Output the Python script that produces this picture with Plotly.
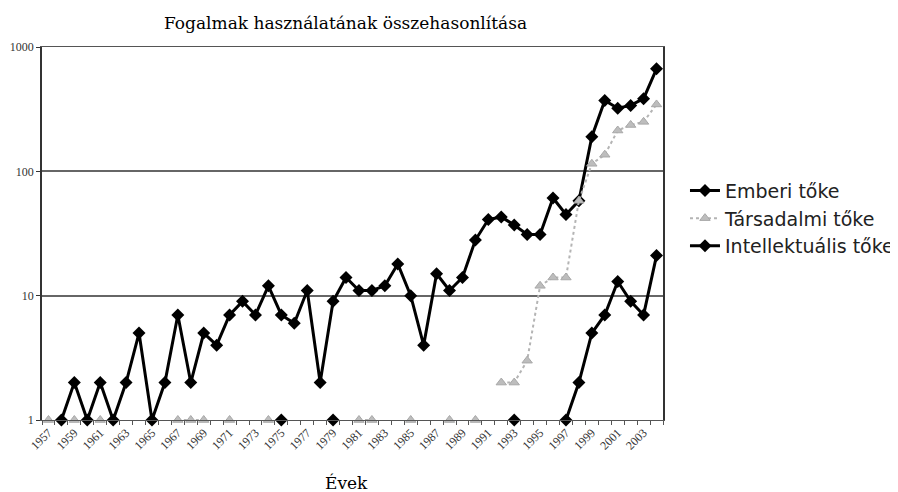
import plotly.graph_objects as go

years = list(range(1957, 2005))

# None = zero (not drawn on log axis)
emberi = [None, 1, 2, 1, 2, 1, 2, 5, 1, 2,
          7, 2, 5, 4, 7, 9, 7, 12, 7, 6,
          11, 2, 9, 14, 11, 11, 12, 18, 10, 4,
          15, 11, 14, 28, 41, 43, 37, 31, 31, 61,
          45, 58, 190, 372, 322, 339, 384, 668]

tarsadalmi = [1, None, 1, None, 1, None, None, None, None, None,
              1, 1, 1, None, 1, None, None, 1, None, None,
              None, None, None, None, 1, 1, None, None, 1, None,
              None, 1, None, 1, None, 2, 2, 3, 12, 14,
              14, 58, 115, 136, 213, 236, 250, 345]

intellektualis = [None] * 18 + [1] + [None] * 3 + [1] + [None] * 13 + [1] + [None] * 3 + \
                 [1, 2, 5, 7, 13, 9, 7, 21]

tick_years = list(range(1957, 2004, 2))
y_ticks = [1, 10, 100, 1000]

series = [
    ("Emberi tőke", emberi, dict(color="black", width=3), dict(symbol="diamond", size=10, color="black")),
    ("Társadalmi tőke", tarsadalmi, dict(color="#b4b4b4", width=2, dash="dot"),
     dict(symbol="triangle-up", size=9, color="#bdbdbd", line=dict(color="#a8a8a8", width=1))),
    ("Intellektuális tőke", intellektualis, dict(color="black", width=3), dict(symbol="diamond", size=10, color="black")),
]

fig = go.Figure()
for name, vals, ln, mk in series:
    fig.add_trace(go.Scatter(x=years, y=vals, name=name, mode="lines+markers",
                             line=ln, marker=mk, connectgaps=False, cliponaxis=False))

# page body adds an 8px offset, so the figure is 8px smaller and everything is shifted accordingly
W, H = 890, 484
fig.update_layout(
    width=W, height=H,
    margin=dict(l=34, r=235, t=39, b=72, autoexpand=False),
    plot_bgcolor="white", paper_bgcolor="white",
    title=dict(text="Fogalmak használatának összehasonlítása", x=337.5 / W, xanchor="center",
               y=1 - 15 / H, yanchor="middle",
               font=dict(family="DejaVu Serif", size=17, color="black")),
    legend=dict(x=1.0354, y=0.666, xanchor="left", yanchor="top",
                font=dict(family="DejaVu Sans", size=19, color="#222"),
                bgcolor="rgba(0,0,0,0)"),
    showlegend=True,
    annotations=[dict(text="Évek", xref="paper", yref="paper", x=(338.5 - 34) / 621, y=-(475 - 412) / 373,
                      xanchor="center", yanchor="middle", showarrow=False,
                      font=dict(family="DejaVu Serif", size=17, color="black"))],
)

fig.update_xaxes(
    range=[1956.5, 2004.5], tickvals=tick_years, ticktext=[str(t) for t in tick_years],
    tickangle=-45, ticks="", showgrid=False, automargin=False,
    showline=True, linecolor="#555", linewidth=1, mirror=True,
    tickfont=dict(family="Liberation Serif", size=12, color="#333"),
    minor=dict(tickvals=[1956.5 + i for i in range(49)], ticks="outside", ticklen=4, tickcolor="#555", showgrid=False),
    zeroline=False,
)
fig.update_yaxes(
    type="log", range=[0, 3], tickvals=y_ticks, ticktext=[str(v) for v in y_ticks],
    ticks="outside", ticklen=4, tickcolor="#333", automargin=False,
    showgrid=True, gridcolor="#666", gridwidth=1.5,
    showline=True, linecolor="#333", linewidth=1.5, mirror=True,
    tickfont=dict(family="Liberation Serif", size=12, color="#333"),
    zeroline=False,
)

fig.write_html("out.html")
